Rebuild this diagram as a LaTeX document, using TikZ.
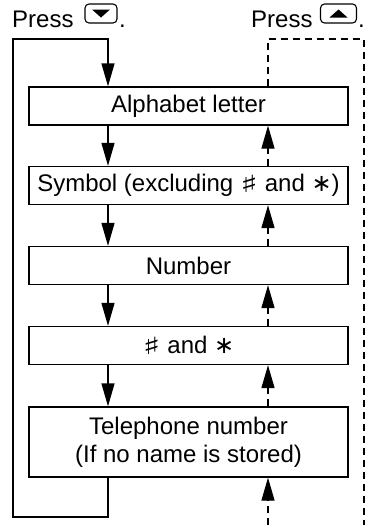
\documentclass[tikz,border=0pt]{standalone}
\usepackage{fontspec}
\setmainfont{Liberation Sans}
\newfontfamily\symfont{DejaVu Sans}
\newcommand{\keyhash}{{\symfont\bfseries\fontsize{25}{28}\selectfont\raisebox{-1pt}{\scalebox{1.5}[0.95]{♯}}}}
\newcommand{\keystar}{{\symfont ∗}}
\usetikzlibrary{arrows.meta,positioning}

\begin{document}
\begin{tikzpicture}[x=1pt,y=-1pt,
  modebox/.style={draw,line width=1.3pt,minimum width=319pt,minimum height=38pt,
                  inner sep=0pt,align=center,font=\fontsize{24}{28}\selectfont},
  keybox/.style={draw,line width=1.1pt,rounded corners=4pt,minimum height=19pt,inner sep=0pt},
  lbl/.style={inner sep=0pt,font=\fontsize{24}{28}\selectfont},
  fwd/.style={line width=1.3pt,-{Triangle[length=23pt,width=13pt]}},
  dashline/.style={line width=1.3pt,dash pattern=on 7pt off 5pt},
  bwd/.style={dashline,-{Triangle[length=23pt,width=13pt]}},
]
\useasboundingbox (0,0) rectangle (370,525);
% key hints
\node[lbl,anchor=base west] (pressdn) at (12,27) {Press};
\node[keybox,minimum width=32pt] (keydn) at (101,13.5) {};
\node[lbl,anchor=base west] (dotdn) at (119,27) {.};
\fill ([shift={(-9,-4)}]keydn.center) -- ++(18,0) -- ++(-9,8) -- cycle;
\node[lbl,anchor=base west] (pressup) at (251,27) {Press};
\node[keybox,minimum width=36pt] (keyup) at (338.5,13.5) {};
\node[lbl,anchor=base west] (dotup) at (358,27) {.};
\fill ([shift={(-9,4)}]keyup.center) -- ++(18,0) -- ++(-9,-8) -- cycle;
% character modes
\foreach \nm/\y/\txt in {alpha/106/{Alphabet letter},
                         sym/185.5/{Symbol (excluding \keyhash{} and \keystar)},
                         num/265.5/Number, hash/345.5/{\keyhash{} and \keystar}}
  \node[modebox] (\nm) at (188.5,\y) {\txt};
\node[modebox,minimum height=70pt] (tel) at (188.5,442) {Telephone number\\(If no name is stored)};
% connectors
\coordinate (dnx) at (108,0);
\coordinate (upx) at (268,0);
\foreach \a/\b in {alpha/sym,sym/num,num/hash,hash/tel}{
  \draw[fwd] (\a.south -| dnx) -- (\b.north -| dnx);
  \draw[bwd] (\b.north -| upx) -- (\a.south -| upx);
}
\coordinate (loopbot) at (13,517);
\coordinate (looptop) at (13,39);
\draw[fwd] (tel.south -| dnx) |- (loopbot) -- (looptop) -| (alpha.north -| dnx);
\coordinate (backtop) at (364,39);
\coordinate (backbot) at (364,525);
\coordinate (upbot) at (268,525);
\draw[bwd] (upbot) -- (tel.south -| upx);
\draw[dashline] (alpha.north -| upx) |- (backtop) -- (backbot);
\end{tikzpicture}
\end{document}
